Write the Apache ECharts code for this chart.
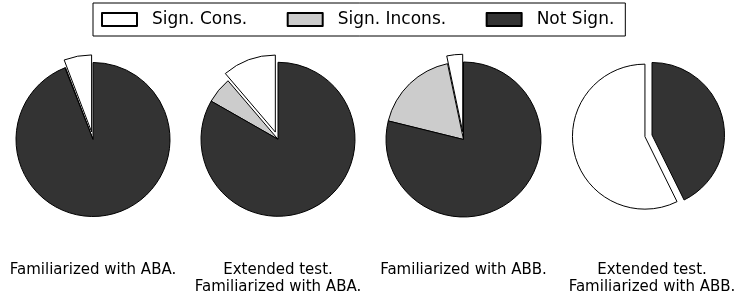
<!DOCTYPE html>
<html>
<head>
<meta charset="utf-8">
<script src="https://cdn.jsdelivr.net/npm/echarts@6/dist/echarts.min.js"></script>
<style>
  html, body { margin: 0; padding: 0; background: #fff; }
  #chart { width: 735px; height: 294px; }
</style>
</head>
<body>
<div id="chart"></div>
<script>
// categories and percentages per pie
var categories = ['Sign. Cons.', 'Sign. Incons.', 'Not Sign.'];
var colors = ['#ffffff', '#cccccc', '#333333'];
var signCons = [5.8, 11.25, 3.3, 57.3];
var signIncons = [0.15, 5.5, 17.85, 0];
var notSign = [94.05, 83.25, 78.85, 42.7];
var pieTitles = [
  'Familiarized with ABA.',
  'Extended test.\nFamiliarized with ABA.',
  'Familiarized with ABB.',
  'Extended test.\nFamiliarized with ABB.'
];

// pie placement (pixels)
var centers = [[93, 139.5], [278, 139.3], [463.5, 139.5], [652, 135]];
var radii = [77, 77, 77.5, 72.5];

var myChart = echarts.init(document.getElementById('chart'), null, { renderer: 'canvas' });

var series = [];
var graphics = [];
for (var i = 0; i < 4; i++) {
  var vals = [signCons[i], signIncons[i], notSign[i]];
  var data = [];
  for (var k = 0; k < 3; k++) {
    if (vals[k] <= 0) continue;
    data.push({
      name: categories[k],
      value: vals[k],
      selected: k == 0,
      itemStyle: { color: colors[k] }
    });
  }
  series.push({
    type: 'pie',
    center: centers[i],
    radius: [0, radii[i]],
    startAngle: 90,
    clockwise: false,
    selectedMode: 'multiple',
    selectedOffset: radii[i] * 0.1,
    avoidLabelOverlap: false,
    label: { show: false },
    labelLine: { show: false },
    emphasis: { disabled: true },
    itemStyle: { borderColor: '#000', borderWidth: 1 },
    data: data
  });
  graphics.push({
    type: 'text',
    x: centers[i][0],
    y: 262,
    style: {
      text: pieTitles[i],
      textAlign: 'center',
      textVerticalAlign: 'top',
      fontFamily: 'DejaVu Sans',
      fontSize: 15,
      lineHeight: 17,
      fill: '#000'
    }
  });
}

var option = {
  animation: false,
  backgroundColor: '#fff',
  legend: {
    data: categories,
    left: 93,
    top: 3,
    orient: 'horizontal',
    padding: [8, 11, 8, 8],
    itemGap: 39.5,
    itemWidth: 35,
    itemHeight: 13,
    icon: 'rect',
    selectedMode: false,
    borderColor: '#000',
    borderWidth: 1,
    borderRadius: 0,
    textStyle: {
      fontFamily: 'DejaVu Sans',
      fontSize: 17,
      color: '#000',
      padding: [0, 0, 0, 10]
    }
  },
  graphic: graphics,
  series: series
};

myChart.setOption(option);
</script>
</body>
</html>
